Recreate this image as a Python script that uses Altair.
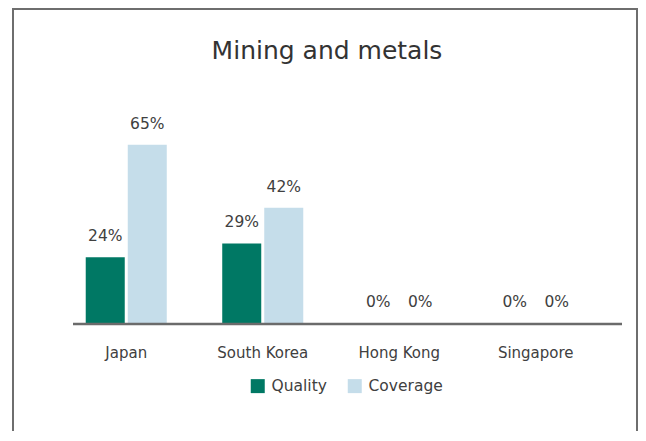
import altair as alt
import pandas as pd

# ---- data ----
countries = ["Japan", "South Korea", "Hong Kong", "Singapore"]
series = ["Quality", "Coverage"]
quality = [24, 29, 0, 0]
coverage = [65, 42, 0, 0]
colors = ["#007864", "#C5DDEA"]
title_text = "Mining and metals"

rows = []
for c, q, v in zip(countries, quality, coverage):
    rows.append({"country": c, "series": "Quality", "value": q, "label": f"{q}%"})
    rows.append({"country": c, "series": "Coverage", "value": v, "label": f"{v}%"})
df = pd.DataFrame(rows)
one = alt.Data(values=[{"k": 1}])

FONT = "DejaVu Sans"
TEXT = "#404040"
GRAY = "#6b6b6b"

x = alt.X(
    "country:N", sort=countries,
    scale=alt.Scale(paddingInner=0, paddingOuter=0),
    axis=alt.Axis(title=None, labelAngle=0, ticks=False, domain=False,
                  labelFont=FONT, labelFontSize=15, labelColor=TEXT,
                  labelBaseline="alphabetic", labelPadding=34),
)
xo = alt.XOffset("series:N", sort=series,
                 scale=alt.Scale(domain=series, paddingInner=0.0714, paddingOuter=0.66))
y = alt.Y("value:Q", scale=alt.Scale(domain=[0, 70], nice=False), axis=None)
color = alt.Color(
    "series:N", sort=series,
    scale=alt.Scale(domain=series, range=colors),
    legend=alt.Legend(title=None, orient="none", legendX=192, legendY=247,
                      direction="horizontal", symbolType="square", symbolSize=196,
                      symbolStrokeWidth=0, labelFont=FONT, labelFontSize=15.5,
                      labelColor=TEXT, labelOffset=6, columnPadding=20, padding=0),
)

frame = alt.Chart(one).mark_rect(fillOpacity=0, stroke="#6e6e6e", strokeWidth=2).encode(
    x=alt.value(-45), x2=alt.value(579), y=alt.value(-122), y2=alt.value(340)
)

bars = alt.Chart(df).mark_bar().encode(x=x, xOffset=xo, y=y, color=color)

labels = alt.Chart(df).mark_text(
    font=FONT, fontSize=15.5, color=TEXT, dy=-16, baseline="alphabetic"
).encode(x=x, xOffset=xo, y=y, text="label:N")

axis_line = alt.Chart(one).mark_rule(color=GRAY, strokeWidth=2.5).encode(
    x=alt.value(15), x2=alt.value(564), y=alt.value(193)
)

title = alt.Chart(one).mark_text(
    font=FONT, fontSize=25, color="#333333", align="center", baseline="alphabetic"
).encode(x=alt.value(269), y=alt.value(-72), text=alt.value(title_text))

chart = alt.layer(frame, bars, labels, axis_line, title).properties(
    width=546, height=192,
    autosize=alt.AutoSizeParams(type="none"),
    padding={"left": 50, "top": 123, "right": 34, "bottom": 108},
).configure_view(stroke=None)

chart.save("out.html", embed_options={"renderer": "svg", "actions": False})
